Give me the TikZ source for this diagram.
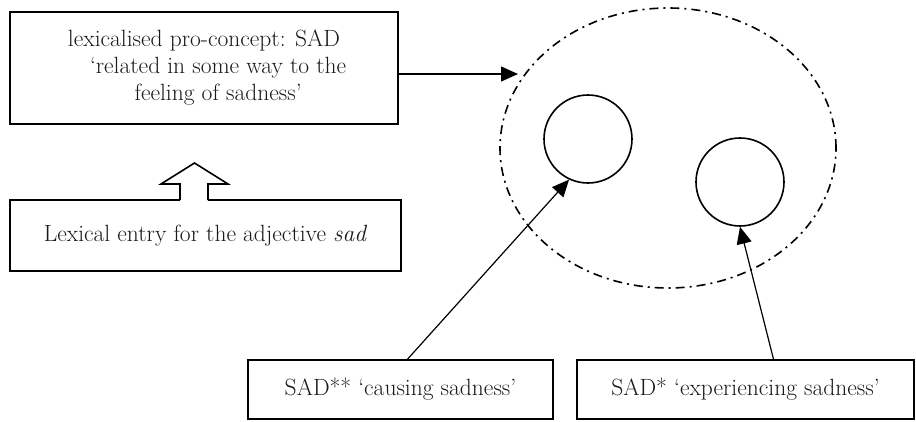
\documentclass[tikz,border=0pt]{standalone}
\usetikzlibrary{arrows.meta,shapes.geometric}
\begin{document}
\begin{tikzpicture}[x=1pt,y=-1pt,
  box/.style={draw, line width=1.6pt, rectangle, inner sep=0pt, font=\fontsize{23.5}{27}\selectfont, text=black!90},
  conn/.style={line width=1.2pt, -{Triangle[length=17pt,width=15pt]}},
  ringnode/.style={draw, circle, line width=1.6pt, minimum size=88pt, inner sep=0pt},
]
\useasboundingbox (0,0) rectangle (916,421);
% top box
\node[box, minimum width=388pt, minimum height=112pt, align=center] (top) at (204,68)
  {lexicalised pro-concept: SAD\\\hspace*{1.2em}‘related in some way to the\\\hspace*{1.2em}feeling of sadness’};
% lexical entry box
\node[box, minimum width=391pt, minimum height=71pt] (lex) at (205.5,235.5)
  {Lexical entry for the adjective \textit{sad}};
% block arrow
\fill[white] (180,198) rectangle (208,202);
\draw[line width=1.6pt, line join=miter] (180,200) -- (180,184) -- (161,184) -- (194.5,163) -- (228,184) -- (208,184) -- (208,200);
% ellipse
\node[draw, ellipse, line width=1.6pt, dash pattern=on 9pt off 5pt on 2pt off 5pt, minimum width=336pt, minimum height=280pt, inner sep=0pt] (ell) at (668,148) {};
% circles
\node[ringnode] (c1) at (588,139) {};
\node[ringnode] (c2) at (740,182) {};
% bottom boxes
\node[box, minimum width=305pt, minimum height=59pt] (b1) at (400.5,389.5) {SAD** ‘causing sadness’};
\node[box, minimum width=337pt, minimum height=59pt] (b2) at (745.5,389.5) {SAD* ‘experiencing sadness’};
% connectors
\coordinate (ellin) at (518,74);
\draw[conn] (top.east |- ellin) -- (ellin);
\draw[conn] ([xshift=7pt]b1.north) -- (c1.245);
\draw[conn] ([xshift=28pt]b2.north) -- (c2.south);
\end{tikzpicture}
\end{document}
